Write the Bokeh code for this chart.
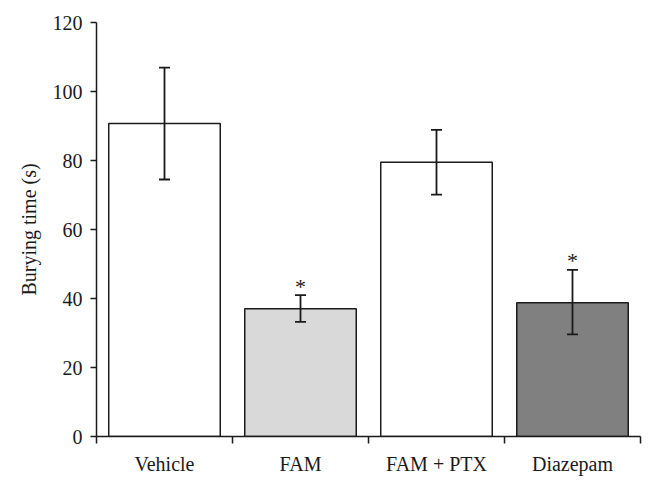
from bokeh.plotting import figure
from bokeh.models import ColumnDataSource, Whisker, TeeHead, FixedTicker, Range1d
from bokeh.core.properties import value
from bokeh.embed import file_html
from bokeh.resources import INLINE

categories = ["Vehicle", "FAM", "FAM + PTX", "Diazepam"]
means = [90.7, 37.0, 79.5, 38.8]
err_upper = [106.9, 41.0, 88.9, 48.3]
err_lower = [74.5, 33.2, 70.1, 29.6]
colors = ["#ffffff", "#d9d9d9", "#ffffff", "#808080"]
significant = [False, True, False, True]
y_ticks = [0, 20, 40, 60, 80, 100, 120]

FONT = "Liberation Serif"
FS = "20px"

xs = [i + 0.5 for i in range(len(categories))]
src = ColumnDataSource(dict(x=xs, top=means, upper=err_upper, lower=err_lower, color=colors))

p = figure(width=646, height=480, output_backend="svg", toolbar_location=None,
           x_range=Range1d(0, len(categories)), y_range=Range1d(0, 120),
           min_border_left=96, min_border_right=6, min_border_top=22, min_border_bottom=44)
p.outline_line_color = None
p.xgrid.grid_line_color = None
p.ygrid.grid_line_color = None
p.background_fill_color = "white"
p.border_fill_color = "white"

p.vbar(x="x", top="top", bottom=0, width=0.82, source=src, fill_color="color",
       line_color="#1a1a1a", line_width=1.5)

w = Whisker(base="x", upper="upper", lower="lower", source=src,
            line_color="#1a1a1a", line_width=1.8, level="overlay",
            upper_head=TeeHead(size=11, line_color="#1a1a1a", line_width=1.8),
            lower_head=TeeHead(size=11, line_color="#1a1a1a", line_width=1.8))
p.add_layout(w)

sx = [x for x, s in zip(xs, significant) if s]
sy = [u for u, s in zip(err_upper, significant) if s]
p.text(x=sx, y=sy, text=["*"] * len(sx), text_align="center", text_baseline="middle",
       y_offset=-9, text_font=value(FONT), text_font_size="22px", text_color="#1a1a1a")

# x axis: boundary ticks as minor ticks, labels at category centres
p.xaxis.ticker = FixedTicker(ticks=xs, minor_ticks=list(range(len(categories) + 1)))
p.xaxis.major_label_overrides = {x: c for x, c in zip(xs, categories)}
p.xaxis.major_tick_out = 0
p.xaxis.major_tick_in = 0
p.xaxis.minor_tick_out = 7
p.xaxis.minor_tick_in = 0
p.xaxis.minor_tick_line_width = 1.5
p.xaxis.minor_tick_line_color = "#1a1a1a"
p.xaxis.axis_line_width = 1.5
p.xaxis.axis_line_color = "#1a1a1a"
p.xaxis.major_label_text_font = FONT
p.xaxis.major_label_text_font_size = FS
p.xaxis.major_label_text_color = "#1a1a1a"
p.xaxis.major_label_standoff = 9

p.yaxis.ticker = FixedTicker(ticks=y_ticks, minor_ticks=[])
p.yaxis.major_tick_out = 6
p.yaxis.major_tick_in = 0
p.yaxis.major_tick_line_width = 1.5
p.yaxis.major_tick_line_color = "#1a1a1a"
p.yaxis.axis_line_width = 1.5
p.yaxis.axis_line_color = "#1a1a1a"
p.yaxis.major_label_text_font = FONT
p.yaxis.major_label_text_font_size = FS
p.yaxis.major_label_text_color = "#1a1a1a"
p.yaxis.major_label_standoff = 8
p.yaxis.axis_label = "Burying time (s)"
p.yaxis.axis_label_text_font = FONT
p.yaxis.axis_label_text_font_size = FS
p.yaxis.axis_label_text_font_style = "normal"
p.yaxis.axis_label_text_color = "#1a1a1a"
p.yaxis.axis_label_standoff = 10

open("out.html", "w").write(file_html(p, INLINE))
